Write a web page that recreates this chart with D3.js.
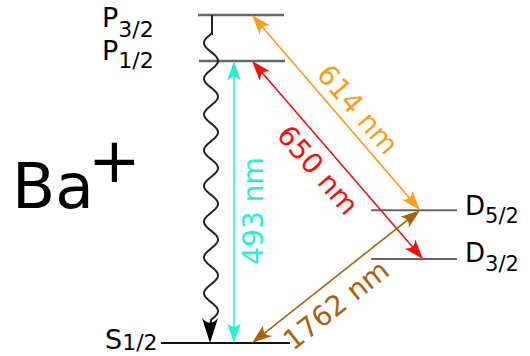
<!DOCTYPE html>
<html><head><meta charset="utf-8">
<script src="https://cdn.jsdelivr.net/npm/d3@7"></script>
<style>body{margin:0;background:#fff}svg{display:block}</style>
</head><body>
<script>
// ---- data ----
const ionName = "Ba";
const ionCharge = "+";
const levelName = ["S", "D", "D", "P", "P"];
const levelJ = ["1/2", "3/2", "5/2", "1/2", "3/2"];
const levelEnergy = [0, 25.6, 40.5, 86.0, 100]; // schematic energy (arb. units)
const transitionLabel = ["493 nm", "650 nm", "614 nm", "1762 nm"];
const transitionLower = [0, 1, 2, 0];
const transitionUpper = [3, 3, 4, 2];
const decayFrom = 4, decayTo = 0, decayCycles = 8;

// ---- styles / layout ----
const W = 530, H = 356;
const font = "DejaVu Sans, Verdana, sans-serif";
const transitionColor = ["#26f0d0", "#ff0a0a", "#ff9c1e", "#a8620e"];
const levelStroke = ["#111", "#666", "#666", "#666", "#666"];
const levelWidth = [2, 2, 2, 2.5, 2.5];
const levelX = [[161, 290], [371, 457], [371, 457], [199, 285], [198, 284]];
const labelX = [105, 465, 465, 102, 102];
const labelDy = [6, 3, 5, -1, 12];
const nameSize = [27, 26, 26, 27, 27];
const subSize = [22, 21, 21, 22, 22];
const subShift = [1, 9, 8, 8, 10];
// attachment x of each transition: [lower, upper]
const attachX = [[234, 234], [423, 252], [420, 252], [252, 420]];
const labelT = [0.468, 0.48, 0.546, 0.418];
const labelOff = [18.5, 21, -19, 22];

const svg = d3.select("body").append("svg").attr("width", W).attr("height", H);
const y = d3.scaleLinear().domain([0, 100]).range([343, 15]);
const x = d3.scaleLinear().domain([0, W]).range([0, W]);

// levels
const levels = d3.range(levelName.length);
svg.append("g").selectAll("line").data(levels).join("line")
  .attr("x1", i => x(levelX[i][0])).attr("x2", i => x(levelX[i][1]))
  .attr("y1", i => y(levelEnergy[i])).attr("y2", i => y(levelEnergy[i]))
  .attr("stroke", i => levelStroke[i]).attr("stroke-width", i => levelWidth[i]);

const lab = svg.append("g").selectAll("text").data(levels).join("text")
  .attr("x", i => x(labelX[i])).attr("y", i => y(levelEnergy[i]) + labelDy[i])
  .attr("font-family", font).attr("fill", "#000");
lab.append("tspan").attr("font-size", i => nameSize[i]).text(i => levelName[i]);
lab.append("tspan").attr("font-size", i => subSize[i]).attr("dy", i => subShift[i]).text(i => levelJ[i]);

// ion label
svg.append("text").attr("x", 12).attr("y", 208).attr("font-family", font)
  .attr("font-size", 63).text(ionName);
svg.append("text").attr("x", 88).attr("y", 182).attr("font-family", font)
  .attr("font-size", 63).text(ionCharge);

// arrowhead (tip at p, direction angle a in radians)
function head(g, px, py, a, color, L, Wd) {
  const p = `M0,0 L${-L},${-Wd} Q${-L * 0.62},0 ${-L},${Wd} Z`;
  g.append("path").attr("d", p).attr("fill", color)
    .attr("transform", `translate(${px},${py}) rotate(${a * 180 / Math.PI})`);
}

const tg = svg.append("g");
transitionLabel.forEach((lbl, k) => {
  const lx = x(attachX[k][0]), ly = y(levelEnergy[transitionLower[k]]);
  const ux = x(attachX[k][1]), uy = y(levelEnergy[transitionUpper[k]]);
  const col = transitionColor[k];
  const dx = ux - lx, dy = uy - ly, len = Math.hypot(dx, dy);
  const ex = dx / len, ey = dy / len, sh = 6;
  tg.append("line").attr("x1", lx + ex * sh).attr("y1", ly + ey * sh)
    .attr("x2", ux - ex * sh).attr("y2", uy - ey * sh)
    .attr("stroke", col).attr("stroke-width", 1.6);
  head(tg, ux, uy, Math.atan2(dy, dx), col, 20, 7);
  head(tg, lx, ly, Math.atan2(-dy, -dx), col, 20, 7);
  // label: reading direction left->right (or bottom->top if vertical)
  let ax = lx, ay = ly, bx = ux, by = uy;
  if (bx < ax || (bx === ax && by > ay)) { [ax, ay, bx, by] = [bx, by, ax, ay]; }
  const ang = Math.atan2(by - ay, bx - ax);
  const t = labelT[k];
  const cx = ax + (bx - ax) * t, cy = ay + (by - ay) * t;
  tg.append("text").attr("transform", `translate(${cx},${cy}) rotate(${ang * 180 / Math.PI})`)
    .attr("x", 0).attr("y", labelOff[k]).attr("dy", "0.36em")
    .attr("text-anchor", "middle").attr("font-family", font).attr("font-size", 28)
    .attr("fill", col).text(lbl);
});

// spontaneous decay (wavy)
const topY = y(levelEnergy[decayFrom]), botY = y(levelEnergy[decayTo]);
const wx = 211, waveStart = topY + 19, headLen = 25, waveEnd = botY - headLen + 2;
const pts = [[wx + 1, topY], [wx + 1, waveStart]];
const nSteps = 240;
for (let s = 0; s <= nSteps; s++) {
  const yy = waveStart + (waveEnd - waveStart) * s / nSteps;
  const ph = 2 * Math.PI * decayCycles * s / nSteps;
  pts.push([wx - 7 * Math.sin(ph), yy]);
}
pts.push([wx - 1, botY - 8]);
svg.append("path").attr("d", d3.line()(pts)).attr("fill", "none")
  .attr("stroke", "#222").attr("stroke-width", 2);
head(svg, wx - 1, botY, Math.PI / 2, "#000", headLen, 8);
</script>
</body></html>
